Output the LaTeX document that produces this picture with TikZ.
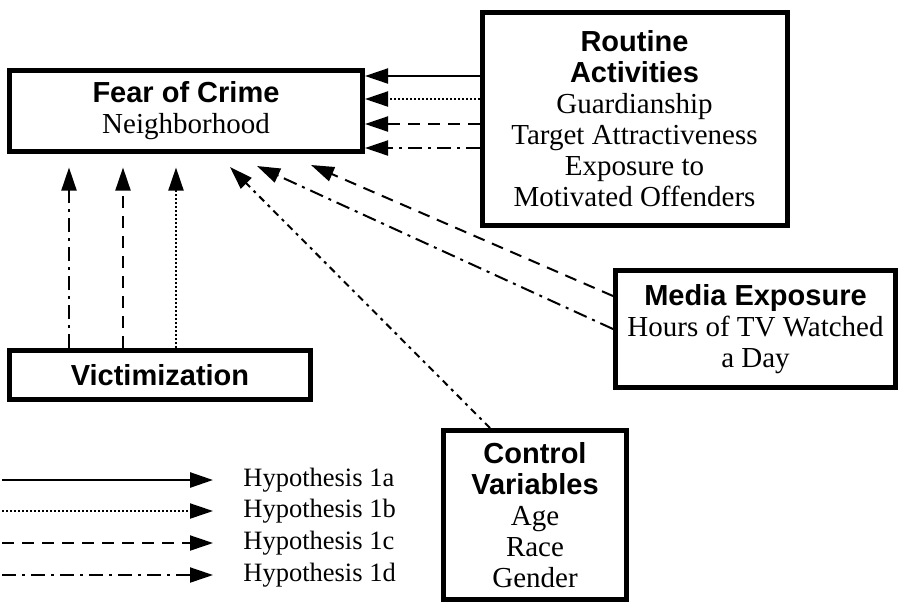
\documentclass[tikz,border=0pt]{standalone}
\usepackage{fontspec}
\setmainfont{Liberation Serif}
\newfontfamily\hsans{Liberation Sans}
\usetikzlibrary{arrows.meta,calc}
\newcommand\hdtxt[1]{{\hsans\bfseries #1}}
\tikzset{
  box/.style={draw, line width=2.5pt, inner sep=0pt, align=center, font=\fontsize{14.5}{15.5}\selectfont},
  conn/.style={line width=1pt, -{Triangle[length=11.5pt,width=7.5pt]}},
  h1a/.style={conn},
  h1b/.style={conn, dash pattern=on 1pt off 1pt},
  h1c/.style={conn, dash pattern=on 6pt off 4pt},
  h1d/.style={conn, dash pattern=on 7pt off 3pt on 1.5pt off 3pt},
  h1dshort/.style={conn, dash pattern=on 3.5pt off 2.5pt on 1.5pt off 2.5pt},
  legtext/.style={anchor=west, inner sep=0pt, font=\fontsize{13.25}{15}\selectfont}
}
\begin{document}
\begin{tikzpicture}[x=0.5pt,y=-0.5pt]
\useasboundingbox (0,0) rectangle (899,607);
% boxes
\node[box, minimum width=176.5pt, minimum height=40.5pt] (fear) at (186,110.5) {\hdtxt{Fear of Crime}\\Neighborhood};
\node[box, minimum width=152.5pt, minimum height=106.5pt] (rout) at (634.5,119) {\hdtxt{Routine}\\\hdtxt{Activities}\\Guardianship\\Target Attractiveness\\Exposure to\\Motivated Offenders};
\node[box, minimum width=140pt, minimum height=58.5pt] (media) at (755.5,329) {\hdtxt{Media Exposure}\\Hours of TV Watched\\a Day};
\node[box, minimum width=150.5pt, minimum height=24.5pt] (vic) at (160,375) {\hdtxt{Victimization}};
\node[box, minimum width=91.5pt, minimum height=84.5pt] (ctrl) at (535,515) {\hdtxt{Control}\\\hdtxt{Variables}\\Age\\Race\\Gender};
% routine activities -> fear
\coordinate (ra) at (0,76);
\coordinate (rb) at (0,99);
\coordinate (rc) at (0,124);
\coordinate (rd) at (0,148);
\draw[h1a] (rout.west |- ra) -- (fear.east |- ra);
\draw[h1b] (rout.west |- rb) -- (fear.east |- rb);
\draw[h1c] (rout.west |- rc) -- (fear.east |- rc);
\draw[h1d] (rout.west |- rd) -- (fear.east |- rd);
% victimization -> fear
\coordinate (vx1) at (69,0);
\coordinate (vx2) at (123,0);
\coordinate (vx3) at (176,0);
\draw[h1d, shorten >=7pt] (vic.north -| vx1) -- (fear.south -| vx1);
\draw[h1c, shorten >=7pt] (vic.north -| vx2) -- (fear.south -| vx2);
\draw[h1b, shorten >=7pt] (vic.north -| vx3) -- (fear.south -| vx3);
% media -> fear
\coordinate (my1) at (0,296);
\coordinate (my2) at (0,329);
\coordinate (tm1) at (311,165);
\coordinate (tm2) at (257,166);
\draw[h1c] (media.west |- my1) -- (tm1);
\draw[h1d] (media.west |- my2) -- (tm2);
% control -> fear
\coordinate (cx) at (490,0);
\coordinate (tc) at (230,167);
\draw[h1dshort] (ctrl.north -| cx) -- (tc);
% legend
\coordinate (la0) at (2,480);  \coordinate (la1) at (213,480);
\coordinate (lb0) at (2,511);  \coordinate (lb1) at (213,511);
\coordinate (lc0) at (2,543);  \coordinate (lc1) at (213,543);
\coordinate (ld0) at (2,575);  \coordinate (ld1) at (213,575);
\draw[h1a, line width=1.3pt] (la0) -- (la1);
\draw[h1b] (lb0) -- (lb1);
\draw[h1c] (lc0) -- (lc1);
\draw[h1d] (ld0) -- (ld1);
\node[legtext] (lta) at (243,480) {Hypothesis 1a};
\node[legtext] (ltb) at (243,511) {Hypothesis 1b};
\node[legtext] (ltc) at (243,543) {Hypothesis 1c};
\node[legtext] (ltd) at (243,575) {Hypothesis 1d};
\end{tikzpicture}
\end{document}
